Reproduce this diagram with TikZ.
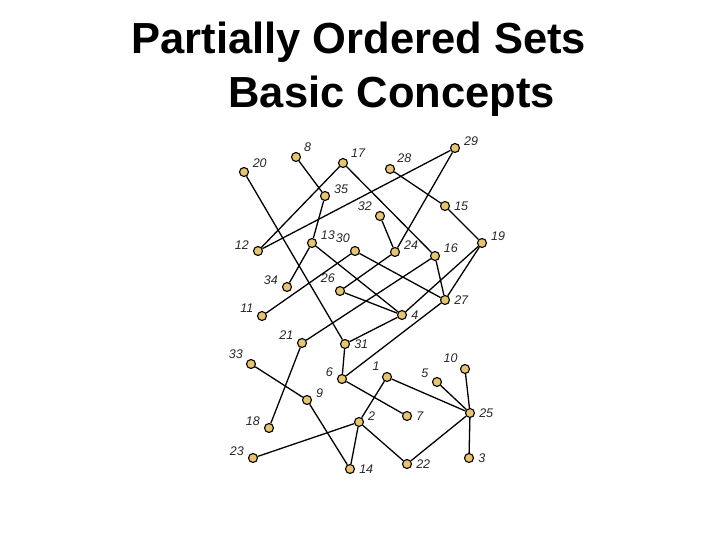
\documentclass[tikz,border=0pt]{standalone}
\usepackage{fontspec}
\setmainfont{Liberation Sans}
\begin{document}
\begin{tikzpicture}[x=1pt,y=-1pt,
  dot/.style={circle,draw=black,line width=1.1pt,fill={rgb,255:red,232;green,196;blue,110},inner sep=0pt,minimum size=9pt},
  lab/.style={font=\fontsize{12.5}{12.5}\selectfont\itshape,text=black!85,inner sep=1pt,label distance=3pt},
  ttl/.style={font=\fontsize{43.5}{43.5}\selectfont\bfseries},
  edge/.style={line width=1.3pt,black}]
\useasboundingbox (0,0) rectangle (720,540);
\node[ttl,anchor=west] (t1) at (128,42) {Partially Ordered Sets};
\node[ttl,anchor=west] (t2) at (225,96) {Basic Concepts};
\newcommand\pt[4]{\node[dot,label={[lab]#4:#1}] (n#1) at (#2,#3) {};}
\pt{20}{244}{172}{20}
\pt{8}{296}{157}{30}
\pt{17}{343}{163}{30}
\pt{28}{390}{169}{40}
\pt{29}{455}{148}{10}
\pt{35}{325}{196}{10}
\pt{32}{380}{216}{150}
\pt{15}{445}{206}{0}
\pt{12}{258}{251}{175}
\pt{13}{312}{243}{15}
\pt{30}{355}{251}{120}
\pt{24}{395}{252}{10}
\pt{16}{435}{256}{15}
\pt{19}{482}{243}{5}
\pt{34}{287}{287}{170}
\pt{26}{340}{291}{120}
\pt{27}{445}{300}{0}
\pt{11}{262}{316}{160}
\pt{4}{402}{315}{0}
\pt{21}{302}{343}{160}
\pt{31}{345}{344}{0}
\pt{33}{251}{364}{150}
\pt{6}{342}{379}{170}
\pt{1}{387}{377}{140}
\pt{5}{437}{382}{160}
\pt{10}{465}{369}{140}
\pt{9}{307}{400}{5}
\pt{7}{407}{416}{0}
\pt{25}{470}{413}{0}
\pt{18}{269}{428}{170}
\pt{2}{359}{422}{5}
\pt{23}{253}{458}{170}
\pt{14}{350}{469}{0}
\pt{22}{407}{464}{0}
\pt{3}{469}{458}{0}
\foreach \a/\b in {20/31,8/35,35/13,13/34,17/12,29/12,17/16,28/15,15/19,32/24,29/24,13/4,30/11,30/27,24/26,26/4,16/27,16/21,19/27,19/4,31/4,27/6,21/18,31/6,33/9,9/14,6/7,1/2,1/25,5/25,10/25,25/3,25/22,2/22,2/14,2/23}
  \draw[edge] (n\a) -- (n\b);
\end{tikzpicture}
\end{document}
